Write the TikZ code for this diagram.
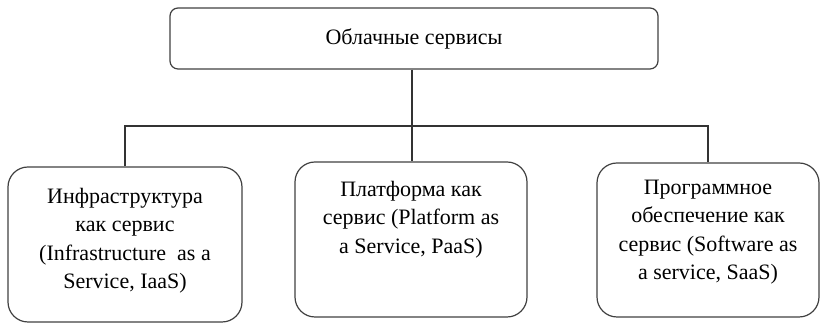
\documentclass[tikz,border=0pt]{standalone}
\usepackage{fontspec}
\setmainfont{Liberation Serif}
\usetikzlibrary{positioning}
% text of a lower box: height, width, gap above, lines
\newcommand{\boxtext}[4]{\parbox[c][#1][t]{#2}{\centering\vspace*{#3}#4}}

\begin{document}
\begin{tikzpicture}[x=0.5pt, y=-0.5pt,
  t/.style={draw=black!75, line width=0.6pt, rounded corners=4pt, minimum width=244pt, minimum height=30.5pt, font=\fontsize{11}{14.2}\selectfont},
  b/.style={draw=black!75, line width=0.6pt, rounded corners=10pt, inner sep=0pt, font=\fontsize{11}{14.2}\selectfont},
  l/.style={draw=black!80, line width=0.6pt}]
  \useasboundingbox (0,0) rectangle (821,324);
  \node[t] (cloud) at (414,38.5) {Облачные сервисы};
  \node[b] (iaas) at (125,244.5) {\boxtext{77.5pt}{117pt}{10.5pt}{Инфраструктура\\как сервис\\(Infrastructure~ as a\\Service, IaaS)}};
  \node[b] (paas) at (411,239.5) {\boxtext{77.5pt}{116pt}{9.5pt}{Платформа как\\сервис (Platform as\\a Service, PaaS)}};
  \node[b] (saas) at (708,240) {\boxtext{77pt}{111pt}{8.5pt}{Программное\\обеспечение как\\сервис (Software as\\a service, SaaS)}};
  \coordinate (hub) at (412,126);
  \draw[l] (cloud.south -| hub) -- (hub);
  \draw[l] (iaas.north) |- (hub) -| (saas.north);
  \draw[l] (hub) -- (paas.north -| hub);
\end{tikzpicture}
\end{document}
